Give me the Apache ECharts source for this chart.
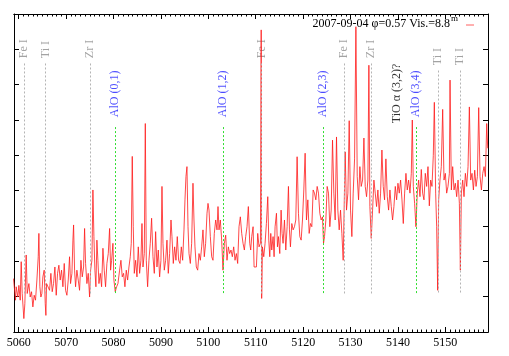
<!DOCTYPE html>
<html>
<head>
<meta charset="utf-8">
<script src="https://cdn.jsdelivr.net/npm/echarts@6/dist/echarts.min.js"></script>
<style>
html,body{margin:0;padding:0;background:#fff}
#main{width:509px;height:356px}
</style>
</head>
<body>
<div id="main"></div>
<script>
// spectrum, wavelength in Angstrom and relative flux
var wave = [
5058.90,5059.32,5059.46,5059.81,5060.03,5060.31,5060.52,5060.73,5061.08,5061.29,
5061.57,5061.79,5062.14,5062.42,5062.70,5062.98,5063.26,5063.54,5063.83,5064.11,
5064.25,5064.46,5064.67,5064.88,5065.09,5065.37,5065.59,5065.73,5065.87,5066.15,
5066.50,5066.78,5067.06,5067.34,5067.63,5067.91,5068.19,5068.47,5068.75,5069.03,
5069.32,5069.60,5069.88,5070.16,5070.44,5070.72,5070.93,5071.22,5071.43,5071.57,
5071.78,5071.99,5072.27,5072.55,5072.83,5073.12,5073.40,5073.68,5073.89,5074.10,
5074.38,5074.66,5074.95,5075.16,5075.44,5075.65,5075.86,5076.07,5076.28,5076.49,
5076.70,5076.92,5077.20,5077.48,5077.76,5078.04,5078.32,5078.60,5078.89,5079.17,
5079.38,5079.59,5079.87,5080.08,5080.36,5080.65,5080.93,5081.28,5081.56,5081.84,
5082.12,5082.40,5082.69,5082.97,5083.25,5083.53,5083.74,5083.95,5084.16,5084.38,
5084.66,5084.94,5085.22,5085.50,5085.78,5086.00,5086.21,5086.49,5086.70,5086.91,
5087.19,5087.47,5087.75,5088.03,5088.32,5088.60,5088.88,5089.16,5089.44,5089.72,
5090.00,5090.22,5090.43,5090.71,5090.99,5091.27,5091.55,5091.83,5092.12,5092.33,
5092.61,5092.89,5093.17,5093.45,5093.73,5094.02,5094.30,5094.58,5094.86,5095.07,
5095.28,5095.49,5095.71,5095.92,5096.20,5096.48,5096.76,5096.97,5097.18,5097.46,
5097.75,5098.03,5098.31,5098.59,5098.87,5099.15,5099.43,5099.72,5099.93,5100.14,
5100.42,5100.70,5100.98,5101.26,5101.55,5101.83,5102.04,5102.25,5102.53,5102.81,
5103.09,5103.38,5103.66,5103.94,5104.22,5104.50,5104.78,5105.06,5105.35,5105.63,
5105.91,5106.19,5106.47,5106.75,5107.04,5107.32,5107.60,5107.88,5108.16,5108.44,
5108.73,5108.94,5109.15,5109.44,5109.65,5109.86,5110.14,5110.42,5110.70,5110.99,
5111.15,5111.25,5111.41,5111.69,5111.97,5112.25,5112.54,5112.75,5112.96,5113.17,
5113.38,5113.66,5113.87,5114.08,5114.37,5114.58,5114.79,5115.07,5115.35,5115.56,
5115.77,5116.06,5116.34,5116.62,5116.90,5117.11,5117.32,5117.61,5117.89,5118.17,
5118.45,5118.73,5119.01,5119.30,5119.58,5119.86,5120.14,5120.42,5120.70,5120.99,
5121.27,5121.55,5121.83,5122.11,5122.39,5122.68,5122.96,5123.24,5123.52,5123.80,
5124.08,5124.30,5124.51,5124.79,5125.07,5125.35,5125.63,5125.92,5126.20,5126.48,
5126.76,5127.04,5127.32,5127.61,5127.89,5128.17,5128.45,5128.66,5128.87,5129.15,
5129.44,5129.72,5130.00,5130.28,5130.56,5130.85,5131.13,5131.41,5131.69,5131.97,
5132.25,5132.54,5132.82,5133.10,5133.38,5133.66,5133.87,5134.08,5134.37,5134.65,
5134.93,5135.21,5135.49,5135.77,5136.06,5136.34,5136.62,5136.90,5137.18,5137.46,
5137.75,5138.03,5138.31,5138.59,5138.87,5139.15,5139.44,5139.72,5140.00,5140.28,
5140.56,5140.85,5141.13,5141.41,5141.69,5141.97,5142.25,5142.54,5142.82,5143.03,
5143.24,5143.52,5143.80,5144.08,5144.37,5144.65,5144.93,5145.21,5145.49,5145.77,
5146.06,5146.34,5146.62,5146.90,5147.18,5147.46,5147.68,5147.96,5148.17,5148.38,
5148.59,5148.87,5149.15,5149.44,5149.72,5150.00,5150.28,5150.56,5150.85,5150.99,
5151.27,5151.55,5151.83,5152.11,5152.39,5152.68,5152.96,5153.17,5153.38,5153.66,
5153.94,5154.23,5154.51,5154.79,5155.07,5155.35,5155.63,5155.92,5156.20,5156.48,
5156.76,5157.04,5157.32,5157.61,5157.89,5158.17,5158.45,5158.73,5158.94
];
var flux = [
1.51,0.90,1.28,0.99,1.32,0.90,1.99,1.09,0.38,0.80,
2.18,1.09,1.37,0.99,1.14,0.71,1.04,0.90,1.47,2.13,
2.79,1.28,0.99,1.09,1.56,1.75,0.80,0.47,1.37,1.32,
1.18,1.66,1.14,1.37,1.84,1.04,1.66,1.89,1.47,1.75,
1.28,1.94,1.18,1.04,1.47,2.13,1.37,1.66,2.60,3.03,
1.75,1.28,1.75,1.47,1.18,2.03,1.56,1.84,2.93,1.94,
1.37,1.66,0.99,1.75,2.03,4.02,2.70,1.75,1.28,2.60,
2.03,1.37,1.66,1.28,2.37,1.75,1.28,1.94,2.22,2.93,
1.75,2.03,2.51,1.47,1.14,1.28,1.37,1.75,2.03,1.56,
1.66,1.28,1.75,1.47,1.84,2.13,2.51,4.97,2.98,1.66,
2.03,1.56,2.41,1.66,2.03,3.07,1.84,2.22,5.90,2.03,
1.28,2.03,2.51,3.22,2.13,1.66,2.84,1.84,2.32,1.56,
2.03,4.12,2.51,1.75,2.03,2.60,1.66,2.22,3.17,2.70,
1.94,2.41,2.03,2.70,2.03,1.94,2.41,2.03,2.89,3.74,
4.40,4.68,2.98,2.22,1.94,2.51,4.21,3.17,2.41,1.84,
1.75,2.22,2.03,2.41,2.89,2.13,2.51,3.36,3.64,3.45,
2.70,2.13,2.03,2.79,3.17,2.89,3.55,2.89,3.17,2.60,
1.75,2.51,2.74,2.03,2.41,2.22,2.32,2.13,2.41,2.03,
2.22,1.94,2.98,3.26,2.79,2.51,2.32,2.70,2.98,3.55,
2.51,2.32,2.70,2.98,1.84,1.84,1.84,2.79,2.41,2.51,
8.55,0.95,2.41,2.13,2.51,3.07,3.83,2.60,2.13,2.79,
2.32,2.70,2.13,2.98,3.36,2.41,2.70,2.22,3.45,2.79,
2.51,3.17,2.32,2.98,4.12,2.89,2.41,3.07,2.89,2.98,
3.17,4.96,3.36,2.70,2.60,3.17,4.02,5.06,3.17,3.74,
2.79,3.07,2.98,4.02,3.93,3.74,4.12,3.93,3.36,3.17,
3.26,2.51,2.70,3.17,4.12,3.93,2.98,3.45,5.43,3.93,
3.17,5.52,3.45,2.89,3.45,2.79,2.03,1.99,5.10,3.45,
3.93,5.98,3.45,2.70,3.93,4.90,8.64,4.40,3.74,4.68,
4.12,4.30,5.49,4.12,3.83,4.30,7.55,3.55,2.65,3.45,
4.30,3.93,3.55,4.02,3.36,3.93,5.15,4.12,3.74,4.90,
3.83,3.45,4.02,3.55,3.17,3.55,4.12,3.74,4.21,3.93,
4.30,3.74,3.07,3.93,4.49,4.02,4.30,3.93,4.49,6.00,
4.12,3.64,2.98,3.93,4.30,3.83,4.60,3.93,3.74,4.49,
4.12,4.68,3.57,4.30,4.12,5.00,6.50,3.93,2.98,1.18,
3.74,4.30,4.68,6.30,4.30,4.49,3.93,4.12,4.49,7.13,
4.02,4.68,4.02,4.21,3.83,4.30,3.64,1.75,3.93,4.30,
3.83,4.49,4.12,4.68,6.37,4.30,4.49,4.02,4.58,4.12,
4.40,6.35,4.40,4.02,4.49,4.68,4.40,5.90,5.20
];

// line identifications
var lineNames = ['Fe I','Ti I','Zr I','AlO (0,1)','AlO (1,2)','Fe I','AlO (2,3)','Fe I','Zr I','TiO \u03b1 (3,2)?','AlO (3,4)','Ti I','Ti I'];
var lineWaves = [5061.1,5065.66,5075.0,5080.3,5103.1,5111.2,5124.2,5128.6,5134.3,5139.7,5143.8,5148.4,5153.1];
var lineKinds = ['atom','atom','atom','alo','alo','atom','alo','atom','atom','tio','alo','atom','atom'];
var labelBase = [7.75,7.75,7.75,6.08,6.08,7.75,6.08,7.75,7.75,5.91,6.08,7.55,7.55];
var lineTop = [7.6,7.6,7.6,5.8,5.8,7.6,5.8,7.6,7.6,null,5.8,7.4,7.4];
var lineBottom = 1.09;

var xTicks = [5060,5070,5080,5090,5100,5110,5120,5130,5140,5150];

var textColor = {atom:'#8c8c8c', alo:'#1e1eff', tio:'#000000'};
var markColor = {atom:'#b4b4b4', alo:'#33dd33'};
var serif = 'Liberation Serif';

var chart = echarts.init(document.getElementById('main'));

var spec = [];
for (var i = 0; i < wave.length; i++) spec.push([wave[i], flux[i]]);

var labels = [];
var marks = {atom: [], alo: []};
for (var k = 0; k < lineNames.length; k++) {
    labels.push({
        value: [lineWaves[k], labelBase[k]],
        label: {color: textColor[lineKinds[k]]}
    });
    if (lineTop[k] != null) {
        marks[lineKinds[k]].push([
            {coord: [lineWaves[k], lineTop[k]]},
            {coord: [lineWaves[k], lineBottom]}
        ]);
    }
}

function markSeries(kind) {
    return {
        type: 'line', data: [], silent: true, z: 1,
        color: markColor[kind],
        itemStyle: {color: markColor[kind]},
        markLine: {
            silent: true, animation: false,
            symbol: ['none', 'none'],
            label: {show: false},
            itemStyle: {color: markColor[kind]},
            lineStyle: {type: [2, 2], width: 1, color: markColor[kind], opacity: 1},
            emphasis: {disabled: true},
            data: marks[kind]
        }
    };
}

function xAx(pos, len, custom, showLabel) {
    var a = {
        type: 'value', position: pos, min: 5059, max: 5159, interval: 1,
        axisLine: {show: true, onZero: false, lineStyle: {color: '#000', width: 1}},
        axisTick: {show: true, inside: true, length: len, lineStyle: {color: '#000'}},
        axisLabel: {show: false},
        splitLine: {show: false}
    };
    if (custom) a.axisTick.customValues = xTicks;
    if (showLabel) {
        a.axisLabel = {show: true, customValues: xTicks, margin: 5,
            fontFamily: serif, fontSize: 12, color: '#000',
            formatter: function (v) { return String(v); }};
    }
    return a;
}

function yAx(pos) {
    return {
        type: 'value', position: pos, min: 0, max: 9, interval: 1,
        axisLine: {show: true, onZero: false, lineStyle: {color: '#000', width: 1}},
        axisTick: {show: true, inside: true, length: 5, lineStyle: {color: '#000'}},
        axisLabel: {show: false},
        splitLine: {show: false}
    };
}

var option = {
    animation: false,
    backgroundColor: '#fff',
    grid: {left: 14, right: 21, top: 14, bottom: 24},
    xAxis: [xAx('bottom', 2.5, false, true), xAx('bottom', 5, true, false),
            xAx('top', 2.5, false, false), xAx('top', 5, true, false)],
    yAxis: [yAx('left'), yAx('right')],
    series: [markSeries('atom'), markSeries('alo'), {
        type: 'line',
        data: spec,
        symbol: 'none',
        lineStyle: {color: '#ff1a1a', width: 0.8},
        z: 3
    }, {
        type: 'scatter',
        data: labels,
        symbolSize: 0,
        silent: true,
        z: 2,
        label: {
            show: true, position: 'inside', rotate: 90,
            align: 'left', verticalAlign: 'middle',
            fontFamily: serif, fontSize: 12,
            formatter: function (p) { return lineNames[p.dataIndex]; }
        }
    }],
    graphic: [
        {type: 'text', right: 59, top: 18, style: {text: '2007-09-04 \u03c6=0.57 Vis.=8.8',
            font: '12px "Liberation Serif"', fill: '#000'}},
        {type: 'text', left: 451, top: 14, style: {text: 'm', font: '9px "Liberation Serif"', fill: '#000'}},
        {type: 'line', shape: {x1: 466, y1: 25, x2: 474, y2: 25}, style: {stroke: '#ff6060', lineWidth: 1}}
    ]
};
chart.setOption(option);
</script>
</body>
</html>
